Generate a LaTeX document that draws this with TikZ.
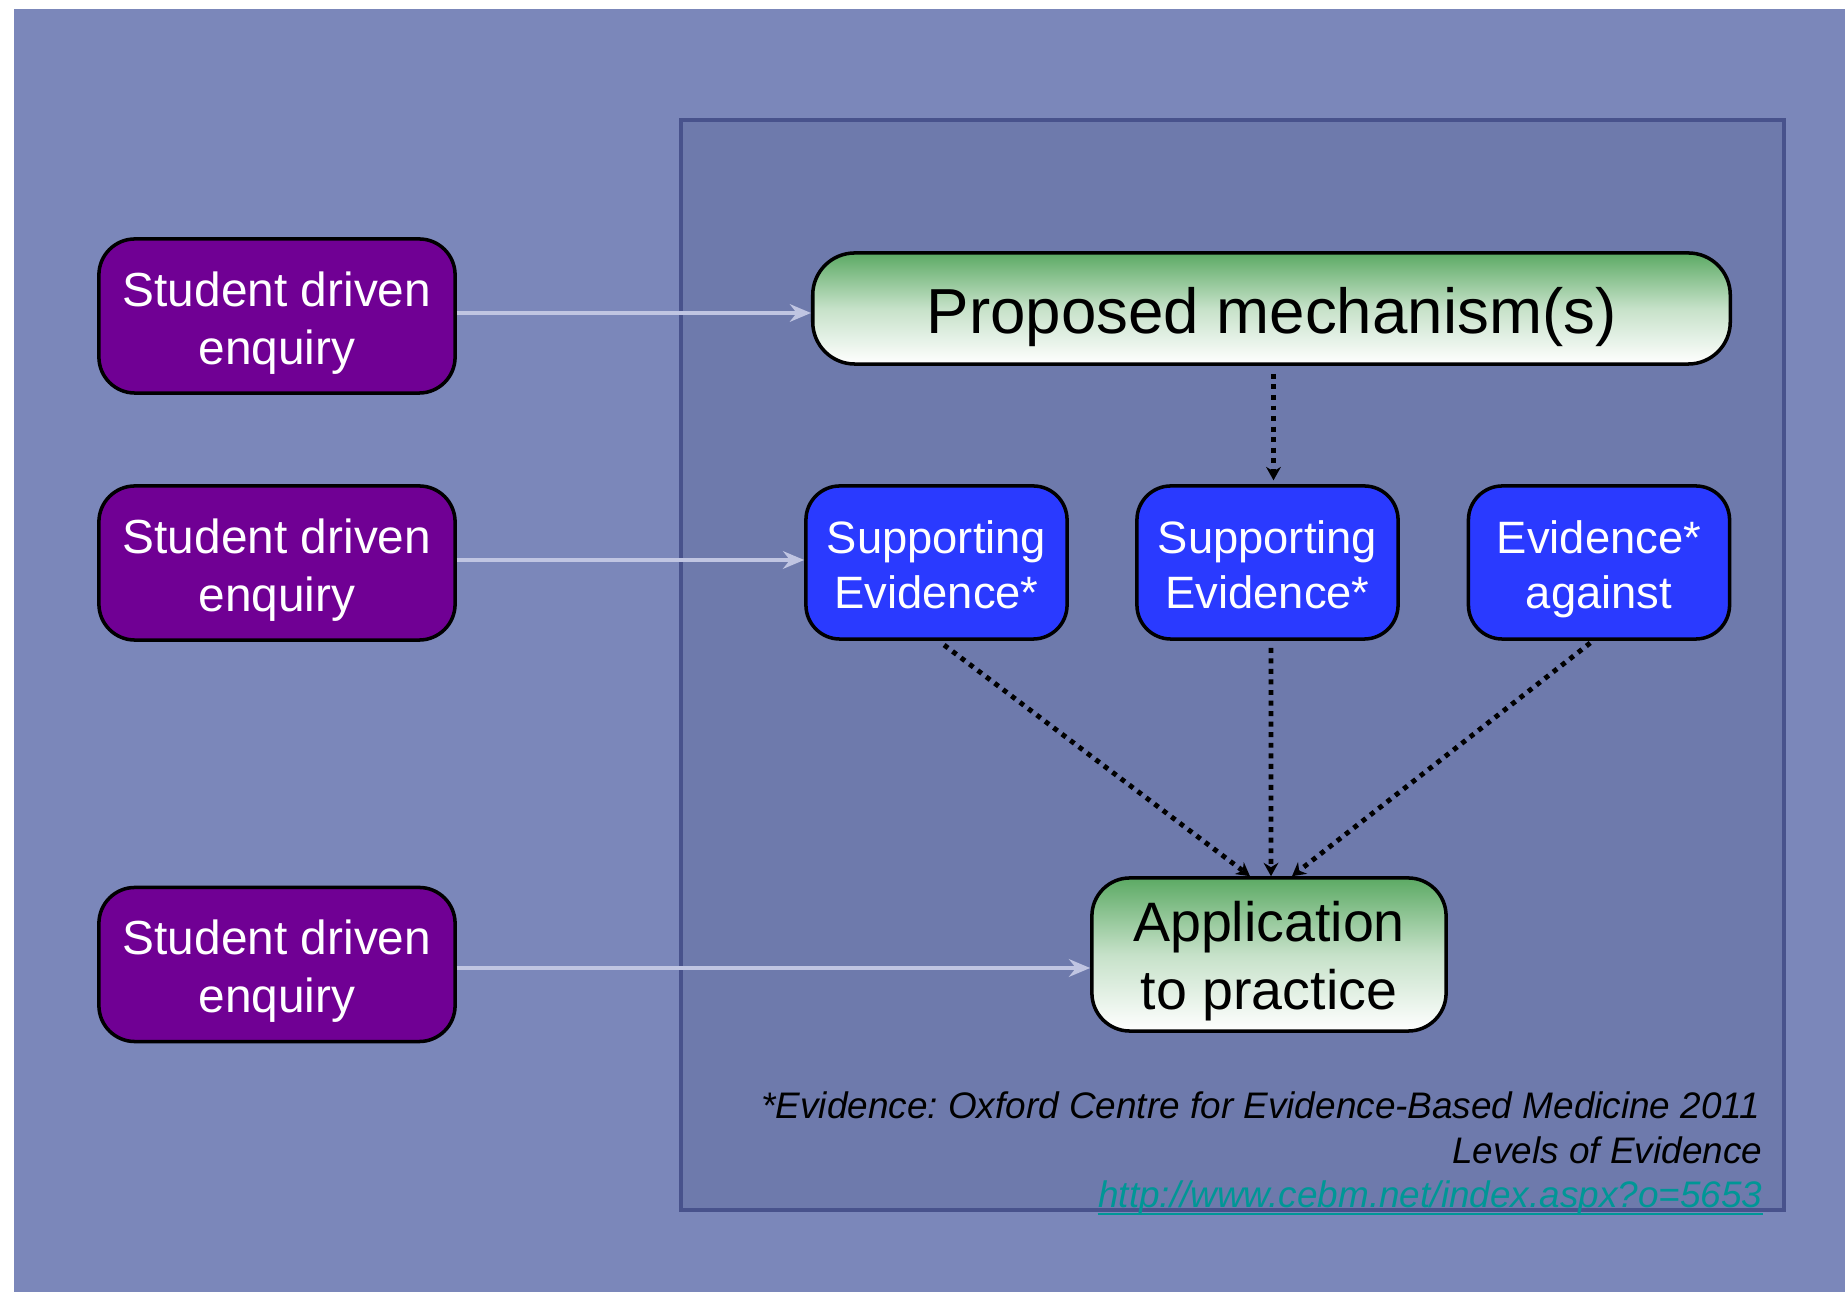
\documentclass[tikz,border=0pt]{standalone}
\usepackage{fontspec}
\setmainfont{Liberation Sans}
\usetikzlibrary{arrows.meta}
\definecolor{bgout}{RGB}{123,135,186}
\definecolor{bgin}{RGB}{110,122,172}
\definecolor{framecol}{RGB}{72,82,140}
\definecolor{purplebox}{RGB}{112,0,148}
\definecolor{bluebox}{RGB}{42,58,255}
\definecolor{greentop}{RGB}{92,170,100}
\definecolor{grayline}{RGB}{192,197,226}
\definecolor{linkcol}{RGB}{0,150,150}
\tikzset{
  boxbase/.style={draw=black, line width=1pt, inner sep=0pt},
  student/.style={boxbase, fill=purplebox, rounded corners=0.36cm,
    minimum width=3.56cm, minimum height=1.54cm},
  evid/.style={boxbase, fill=bluebox, rounded corners=0.34cm,
    minimum width=2.61cm, minimum height=1.53cm},
  greenbox/.style={boxbase, top color=greentop, bottom color=white, middle color=greentop!35!white},
  boxtext/.style={inner sep=0pt, align=center, yshift=-2.2pt},
  studenttext/.style={boxtext, text=white, font=\fontsize{13.6pt}{16.5pt}\selectfont},
  evidtext/.style={boxtext, text=white, font=\fontsize{12.9pt}{15.4pt}\selectfont},
  grayarrow/.style={draw=grayline, line width=1.1pt, -{Stealth[length=6pt,width=5pt]}},
  dotarrow/.style={draw=black, line width=1.4pt, dash pattern=on 1.4pt off 1.6pt, -{Stealth[length=3.8pt,width=4.2pt]}},
  foot/.style={anchor=base east, inner sep=0pt, font=\fontsize{10.5pt}{12.8pt}\selectfont\itshape\frenchspacing}
}
\begin{document}
\begin{tikzpicture}[x=0.01cm,y=-0.01cm]
\path[use as bounding box, fill=white] (0,0) rectangle (1845,1292);
\fill[bgout] (14,9) rectangle (1845,1292);
\draw[framecol, line width=1.2pt, fill=bgin] (681,120) rectangle (1784,1210);

\node[student] (s1) at (277,316) {};
\node[studenttext] (s1t) at (s1.center) {\strut Student driven\\enquiry\strut};
\node[student] (s2) at (277,563) {};
\node[studenttext] (s2t) at (s2.center) {\strut Student driven\\enquiry\strut};
\node[student] (s3) at (277,964.5) {};
\node[studenttext] (s3t) at (s3.center) {\strut Student driven\\enquiry\strut};

\node[greenbox, rounded corners=0.42cm, minimum width=9.17cm, minimum height=1.11cm] (prop) at (1271.5,308.5) {};
\node[boxtext, yshift=-0.6pt, font=\fontsize{18.1pt}{21pt}\selectfont] (propt) at (prop.center) {\strut Proposed mechanism(s)};

\node[evid] (b1) at (936.5,562.5) {};
\node[evidtext] (b1t) at (b1.center) {\strut Supporting\\Evidence*\strut};
\node[evid] (b2) at (1267.5,562.5) {};
\node[evidtext] (b2t) at (b2.center) {\strut Supporting\\Evidence*\strut};
\node[evid] (b3) at (1599,562.5) {};
\node[evidtext] (b3t) at (b3.center) {\strut Evidence*\\against\strut};

\node[greenbox, rounded corners=0.38cm, minimum width=3.54cm, minimum height=1.53cm] (app) at (1269,954.5) {};
\node[boxtext, font=\fontsize{15.8pt}{19.4pt}\selectfont] (appt) at (app.center) {\strut Application\\to practice\strut};

\draw[grayarrow] ([yshift=0.03cm]s1.east) -- ([yshift=0.03cm]s1.east -| prop.west);
\draw[grayarrow] ([yshift=0.03cm]s2.east) -- ([yshift=0.03cm]s2.east -| b1.west);
\draw[grayarrow] ([yshift=-0.035cm]s3.east) -- ([yshift=-0.035cm]s3.east -| app.west);

\draw[dotarrow, shorten <=2.3pt, shorten >=1.1pt] ([xshift=0.02cm]prop.south) -- ([xshift=0.02cm]prop.south |- b2.north);
\draw[dotarrow, shorten <=2pt] ([xshift=0.02cm]b1.south) -- ([xshift=-0.19cm]app.north);
\draw[dotarrow, shorten <=2pt] ([xshift=0.035cm]b2.south) -- ([xshift=0.02cm]app.north);
\draw[dotarrow, shorten <=1pt] ([xshift=-0.06cm]b3.south) -- ([xshift=0.23cm]app.north);

\node[foot] (f1) at (1761,1119) {*Evidence: Oxford Centre for Evidence-Based Medicine 2011};
\node[foot] (f2) at (1763,1164) {Levels of Evidence};
\node[foot, text=linkcol] (f3) at (1763,1208) {http://www.cebm.net/index.aspx?o=5653};
\draw[linkcol, line width=0.5pt] ([yshift=-0.06cm]f3.base west) -- ([yshift=-0.06cm]f3.base east);
\end{tikzpicture}
\end{document}
